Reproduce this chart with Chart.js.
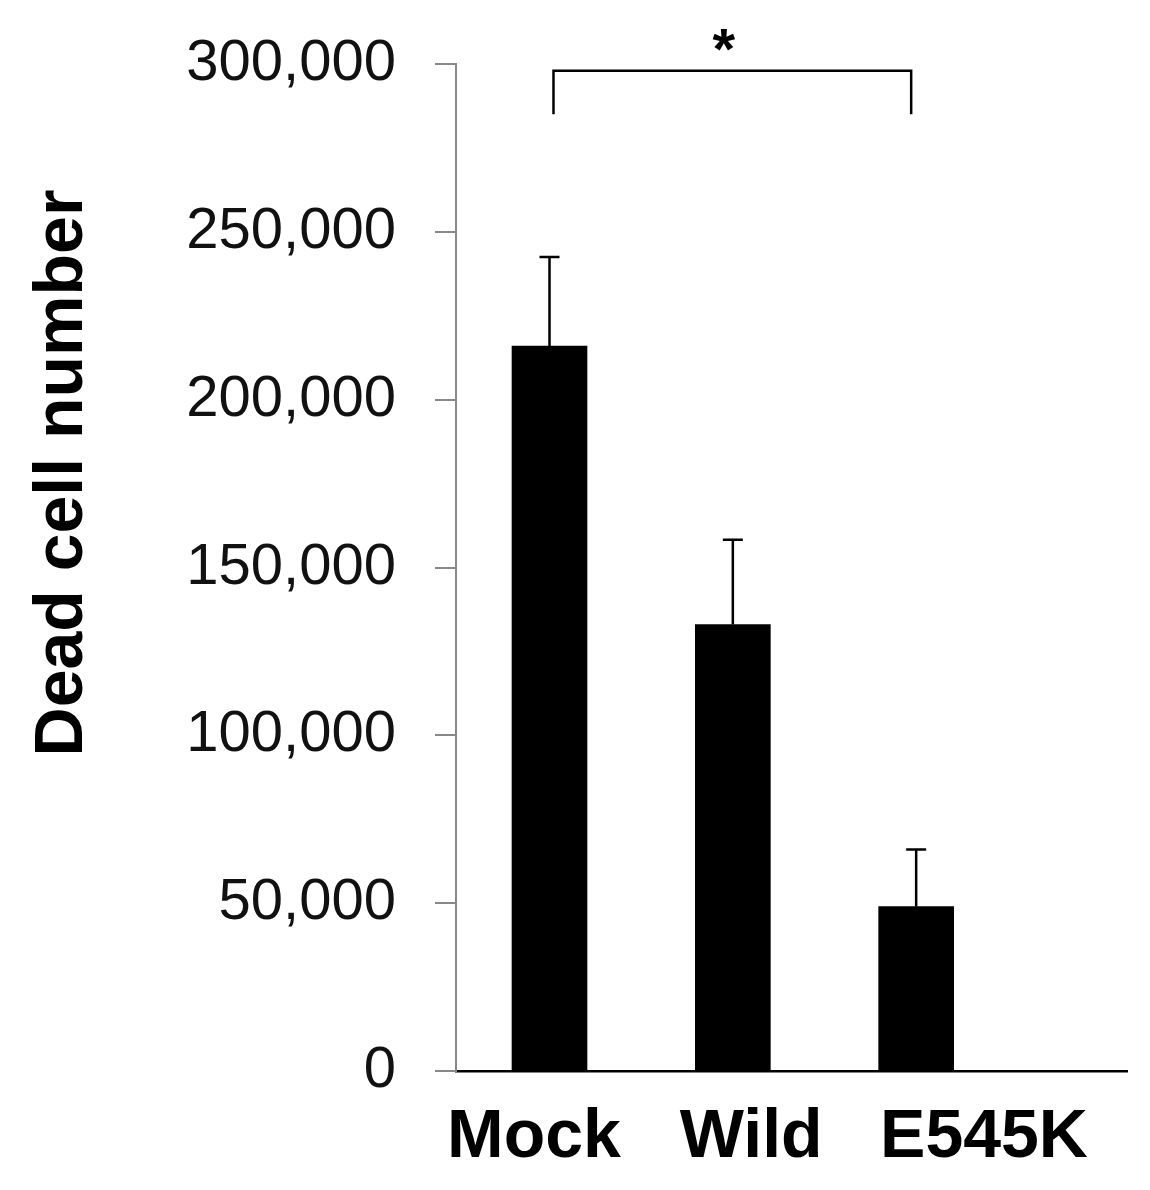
<!DOCTYPE html>
<html><head><meta charset="utf-8">
<script src="https://cdn.jsdelivr.net/npm/chart.js@4/dist/chart.umd.min.js"></script>
<style>html,body{margin:0;padding:0;background:#fff;overflow:hidden}</style>
</head><body>
<canvas id="c" width="1150" height="1190"></canvas>
<script>
const categories = ['Mock', 'Wild', 'E545K'];
const deadCells = [216000, 133000, 49000];
const errorsUp = [26500, 25300, 17000];
const yTickValues = [0, 50000, 100000, 150000, 200000, 250000, 300000];
const yTitle = 'Dead cell number';
const sigFrom = 0, sigTo = 2, sigLabel = '*';

const labelAt = [-0.085, 1.10, 2.37];

const overlay = {
  id: 'overlay',
  afterDatasetsDraw(chart) {
    const {ctx, scales: {x, y}} = chart;
    ctx.save();
    ctx.strokeStyle = '#000';
    ctx.lineWidth = 2.5;
    deadCells.forEach((v, i) => {
      const px = x.getPixelForValue(i);
      const y0 = y.getPixelForValue(v);
      const y1 = y.getPixelForValue(v + errorsUp[i]);
      ctx.beginPath();
      ctx.moveTo(px, y0); ctx.lineTo(px, y1);
      ctx.moveTo(px - 10, y1); ctx.lineTo(px + 10, y1);
      ctx.stroke();
    });
    const xa = x.getPixelForValue(sigFrom) + 4;
    const xb = x.getPixelForValue(sigTo) - 5;
    const yt = y.getPixelForValue(298000);
    const yl = y.getPixelForValue(285000);
    ctx.beginPath();
    ctx.moveTo(xa, yl); ctx.lineTo(xa, yt); ctx.lineTo(xb, yt); ctx.lineTo(xb, yl);
    ctx.stroke();
    ctx.fillStyle = '#000';
    ctx.font = 'bold 58px "Liberation Sans", Arial, sans-serif';
    ctx.textAlign = 'center';
    ctx.textBaseline = 'alphabetic';
    ctx.fillText(sigLabel, x.getPixelForValue(0.95), y.getPixelForValue(298500));
    ctx.restore();
  }
};

new Chart(document.getElementById('c'), {
  type: 'bar',
  data: {
    datasets: [{
      data: deadCells.map((v, i) => ({x: i, y: v})),
      backgroundColor: '#000',
      borderWidth: 0,
      barThickness: 75
    }]
  },
  options: {
    responsive: false,
    animation: false,
    devicePixelRatio: 1,
    layout: {padding: {top: 64, right: 23, left: 0, bottom: 0}},
    plugins: {legend: {display: false}, tooltip: {enabled: false}},
    scales: {
      x: {
        type: 'linear',
        offset: false,
        min: -0.51,
        max: 3.15,
        afterBuildTicks: s => { s.ticks = labelAt.map(v => ({value: v})); },
        afterFit: s => { s.height = 1190 - 1071; },
        grid: {display: false, drawTicks: false},
        border: {display: true, color: '#000', width: 2.5},
        ticks: {
          callback: (v, i) => categories[i] ?? '',
          color: '#000',
          padding: 26,
          maxRotation: 0,
          autoSkip: false,
          font: {family: '"Liberation Sans", Arial, sans-serif', weight: 'bold', size: 68}
        }
      },
      y: {
        min: 0,
        max: 300000,
        afterBuildTicks: s => { s.ticks = yTickValues.map(v => ({value: v})); },
        afterFit: s => { s.width = 456; },
        grid: {drawOnChartArea: false, drawTicks: true, tickLength: 21, color: '#888', lineWidth: 2},
        border: {display: true, color: '#888', width: 2},
        ticks: {
          callback: v => v.toLocaleString('en-US'),
          color: '#111',
          padding: 39,
          font: {family: '"Liberation Sans", Arial, sans-serif', size: 58, lineHeight: 0.6}
        },
        title: {
          display: true,
          text: '          ' + yTitle,
          color: '#000',
          padding: {top: 22, bottom: 0},
          font: {family: '"Liberation Sans", Arial, sans-serif', weight: 'bold', size: 68}
        }
      }
    }
  },
  plugins: [overlay]
});
</script>
</body></html>
